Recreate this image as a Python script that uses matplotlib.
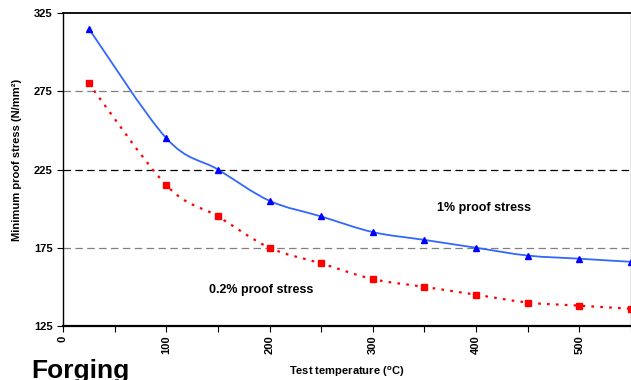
import numpy as np
import matplotlib
matplotlib.use("Agg")
import matplotlib.pyplot as plt
from matplotlib.path import Path
from matplotlib.patches import PathPatch

plt.rcParams['font.family'] = ['Liberation Sans', 'DejaVu Sans']
plt.rcParams['font.weight'] = 'bold'
plt.rcParams['mathtext.default'] = 'regular'

# data
temps = [25, 100, 150, 200, 250, 300, 350, 400, 450, 500, 550]
proof_1 = [315, 245, 225, 205, 195, 185, 180, 175, 170, 168, 166]
proof_02 = [280, 215, 195, 175, 165, 155, 150, 145, 140, 138, 136]
y_ticks = [125, 175, 225, 275, 325]
x_ticks = [0, 100, 200, 300, 400, 500]


def smooth_path(x, y):
    """catmull-rom style bezier through the points (like excel smoothed lines)"""
    x = np.asarray(x, float)
    y = np.asarray(y, float)
    pts = np.column_stack([x, y])
    n = len(pts)
    verts = [pts[0]]
    codes = [Path.MOVETO]
    for i in range(n - 1):
        p0 = pts[i - 1] if i > 0 else pts[i]
        p1 = pts[i]
        p2 = pts[i + 1]
        p3 = pts[i + 2] if i + 2 < n else pts[i + 1]
        c1 = p1 + (p2 - p0) / 6.0
        c2 = p2 - (p3 - p1) / 6.0
        verts += [c1, c2, p2]
        codes += [Path.CURVE4] * 3
    return Path(verts, codes)


fig = plt.figure(figsize=(6.31, 3.80), dpi=100)
ax = fig.add_axes([63 / 631, 1 - 326 / 380, 568 / 631, (326 - 13) / 380])

# dashed reference lines
ax.axhline(175, color='#808080', lw=0.9, dashes=(6, 3.5), zorder=1)
ax.axhline(225, color='black', lw=0.9, dashes=(6, 3.5), zorder=1)
ax.axhline(275, color='#808080', lw=0.9, dashes=(6, 3.5), zorder=1)

ax.add_patch(PathPatch(smooth_path(temps, proof_1), fill=False,
                       edgecolor='#3366FF', lw=1.3, zorder=2))
ax.add_patch(PathPatch(smooth_path(temps, proof_02), fill=False,
                       edgecolor='#FF0000', lw=1.6, linestyle=(0, (1.2, 2.8)),
                       zorder=2))
ax.plot(temps, proof_1, ls='none', marker='^', ms=4.5, color='#0000FF', zorder=3)
ax.plot(temps, proof_02, ls='none', marker='s', ms=3.8, color='#FF0000', zorder=3)

ax.set_xlim(0, 550)
ax.set_ylim(125, 325)
ax.set_yticks(y_ticks)
ax.set_xticks(x_ticks)
ax.set_xticks(np.arange(50, 551, 100), minor=True)
ax.tick_params(axis='both', which='both', direction='out', length=4, width=0.8,
               labelsize=8)
ax.tick_params(axis='x', which='both', labelrotation=90, pad=3)

for lbl in ax.get_xticklabels() + ax.get_yticklabels():
    lbl.set_fontweight('bold')

ax.spines['bottom'].set_linewidth(1.6)
ax.spines['left'].set_linewidth(1.0)
ax.spines['top'].set_linewidth(1.3)
ax.spines['right'].set_color('#808080')
ax.spines['right'].set_linewidth(1.0)

ax.set_ylabel('Minimum proof stress (N/mm²)', fontsize=8, fontweight='bold',
              labelpad=8)
ax.yaxis.set_label_coords(-0.072, 0.53)
fig.text(347 / 631, 1 - 372 / 380, r'Test temperature ($^{\mathregular{o}}$C)',
         fontsize=8, fontweight='bold', ha='center', va='center')

ax.text(408, 200.5, '1% proof stress', fontsize=9, fontweight='bold',
        ha='center', va='center')
ax.text(192, 148, '0.2% proof stress', fontsize=9, fontweight='bold',
        ha='center', va='center')

fig.text(31 / 631, 1 - 378 / 380, 'Forging', fontsize=19, fontweight='bold',
         ha='left', va='baseline')

fig.savefig('out.png', dpi=100)
